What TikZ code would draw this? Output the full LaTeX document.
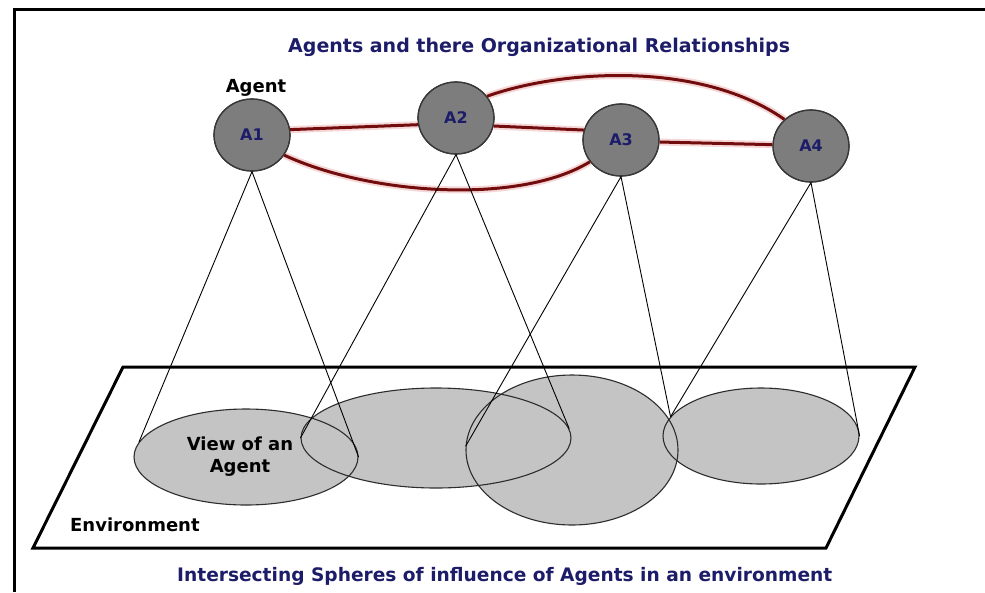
\documentclass[tikz,border=0pt]{standalone}
\usepackage{fontspec}
\setmainfont{DejaVu Sans}
\usetikzlibrary{shapes.geometric}
\definecolor{navy}{RGB}{28,28,105}
\definecolor{linkred}{RGB}{115,12,12}
\definecolor{linkhalo}{RGB}{245,215,215}
\definecolor{agentgray}{RGB}{125,125,125}
\definecolor{agentedge}{RGB}{55,55,55}
\definecolor{spheregray}{RGB}{196,196,196}
\definecolor{sphereedge}{RGB}{45,45,45}
\pgfdeclarelayer{fills}
\pgfsetlayers{fills,main}
\tikzset{
  agent/.style={ellipse, draw=agentedge, line width=1.2pt, fill=agentgray, inner sep=0pt,
    minimum width=76pt, minimum height=72pt, text=navy, font=\fontsize{16}{18}\selectfont\bfseries},
  sphere/.style={ellipse, draw=sphereedge, line width=1.1pt, inner sep=0pt},
  link/.style={draw=linkred, line width=3pt, preaction={draw=linkhalo, line width=7pt}},
  cone/.style={draw=black, line width=0.9pt},
  lbl/.style={inner sep=0pt, font=\fontsize{18}{22}\selectfont\bfseries},
  ttl/.style={inner sep=0pt, text=navy, font=\fontsize{19}{22}\selectfont\bfseries}
}
\begin{document}
\begin{tikzpicture}[x=1pt,y=-1pt]
\useasboundingbox (0,0) rectangle (985,592);
% frame
\draw[line width=3pt] (14,592) -- (14,9) -- (985,9);
% environment plane
\draw[line width=3pt, line join=miter] (123,367) -- (915,367) -- (826,548) -- (33,548) -- cycle;
% spheres of influence
\node[sphere, minimum width=224pt, minimum height=96pt] (e1) at (246,457) {};
\node[sphere, minimum width=270pt, minimum height=100pt] (e2) at (436,438) {};
\node[sphere, minimum width=212pt, minimum height=150pt] (e3) at (572,450) {};
\node[sphere, minimum width=196pt, minimum height=96pt] (e4) at (761,436) {};
\begin{pgfonlayer}{fills}
\fill[white] (0,0) rectangle (985,592);
\fill[spheregray] (e1.center) ellipse [x radius=112, y radius=48];
\fill[spheregray] (e2.center) ellipse [x radius=135, y radius=50];
\fill[spheregray] (e3.center) ellipse [x radius=106, y radius=75];
\fill[spheregray] (e4.center) ellipse [x radius=98, y radius=48];
\end{pgfonlayer}
% organisational relationships (drawn before agents so the halo sits beneath)
\path (252,135) coordinate (c1) (456,118) coordinate (c2) (621,140) coordinate (c3) (811,146) coordinate (c4);
\node[agent] (a1) at (c1) {A1};
\node[agent] (a2) at (c2) {A2};
\node[agent] (a3) at (c3) {A3};
\node[agent] (a4) at (c4) {A4};
\draw[link] (a1.8) -- (a2.190);
\draw[link] (a1.-32) .. controls (370,195) and (520,205) .. (a3.215);
\draw[link] (a2.-12) -- (a3.165);
\draw[link] (a2.35) .. controls (560,70) and (700,60) .. (a4.135);
\draw[link] (a3.-3) -- (a4.178);
% redraw agent outlines over the halo ends
\foreach \a in {a1,a2,a3,a4}{
  \draw[agentedge, line width=1.2pt] (\a.center) ellipse [x radius=38, y radius=36];
}
% views
\draw[cone] (e1.172) -- (a1.south) -- (e1.east);
\draw[cone] (e2.west) -- (a2.south) -- (e2.4);
\draw[cone] (e3.178) -- (a3.south) -- (e4.168);
\draw[cone] (e4.168) -- (a4.south) -- (e4.east);
% texts
\node[ttl, anchor=west] (t1) at (288,47) {Agents and there Organizational Relationships};
\node[lbl] (agentlbl) at (256,88) {Agent};
\node[lbl, align=center] (view) at (240,457) {View of an\\Agent};
\node[lbl, anchor=west] (env) at (70,525) {Environment};
\node[ttl, anchor=west, font=\fontsize{18.6}{22}\selectfont\bfseries] (t2) at (177,576) {Intersecting Spheres of influence of Agents in an environment};
\end{tikzpicture}
\end{document}
